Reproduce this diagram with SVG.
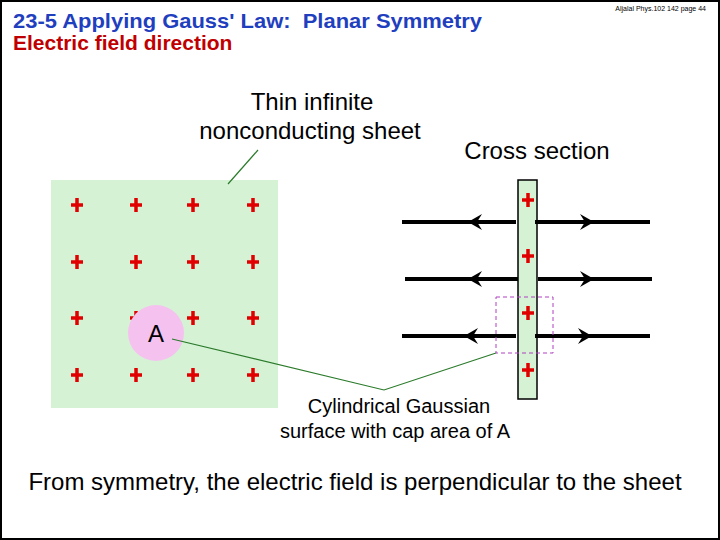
<svg xmlns="http://www.w3.org/2000/svg" width="720" height="540" viewBox="0 0 720 540">
<style>
text{font-family:"Liberation Sans",Arial,sans-serif}
.t{font-size:21px;font-weight:bold;fill:#1f3fbf}
.r{fill:#c00000}
.p{stroke:#e00000;stroke-width:3.5;fill:none}
.a{stroke:#000;stroke-width:4;fill:none}
.ah{fill:#000}
.g{stroke:#2a7a2a;stroke-width:1.2;fill:none}
</style>
<defs>
<g id="plus"><path class="p" d="M-6,0H6M0,-7V7"/></g>
<path id="al" class="ah" d="M-14,0 L0,-8 L-5,0 L0,8Z"/>
<path id="ar" class="ah" d="M14,0 L0,-8 L5,0 L0,8Z"/>
</defs>
<rect x="1" y="1" width="718" height="538" fill="#fff" stroke="#000" stroke-width="2"/>
<text x="13" y="28" class="t" xml:space="preserve" textLength="469" lengthAdjust="spacingAndGlyphs">23-5 Applying Gauss' Law:  Planar Symmetry</text>
<text x="13" y="50" font-size="21" font-weight="bold" class="r">Electric field direction</text>
<text x="706" y="11" font-size="7" text-anchor="end">Aljalal Phys.102 142 page 44</text>
<g id="sheet">
<rect x="51" y="180" width="227" height="228" fill="#d5f2d5"/>
<use href="#plus" x="77" y="205"/><use href="#plus" x="136" y="205"/><use href="#plus" x="193" y="205"/><use href="#plus" x="253" y="205"/>
<use href="#plus" x="77" y="262"/><use href="#plus" x="136" y="262"/><use href="#plus" x="193" y="262"/><use href="#plus" x="253" y="262"/>
<use href="#plus" x="77" y="318"/><use href="#plus" x="136" y="318"/><use href="#plus" x="193" y="318"/><use href="#plus" x="253" y="318"/>
<use href="#plus" x="77" y="375"/><use href="#plus" x="136" y="375"/><use href="#plus" x="193" y="375"/><use href="#plus" x="253" y="375"/>
</g>
<g id="areaA">
<circle cx="156" cy="333" r="28" fill="#f5c2f0"/>
<text x="156" y="342" font-size="24" text-anchor="middle">A</text>
</g>
<g id="label-sheet">
<text x="312" y="110" font-size="24" text-anchor="middle">Thin infinite</text>
<text x="310" y="139" font-size="24" text-anchor="middle">nonconducting sheet</text>
</g>
<text id="label-cross" x="537" y="159" font-size="24" text-anchor="middle">Cross section</text>
<g id="cross">
<rect x="518" y="180" width="19" height="219" fill="#d5f2d5" stroke="#000" stroke-width="1.5"/>
<use href="#plus" x="528" y="200"/><use href="#plus" x="528" y="256"/><use href="#plus" x="528" y="313"/><use href="#plus" x="528" y="370"/>
</g>
<g id="connectors">
<path class="a" d="M402,222H516M535,222H650M405,279H518M538,279H652M402,336H516M535,336H650"/>
<use href="#al" x="482" y="222"/><use href="#ar" x="580" y="222"/>
<use href="#al" x="482" y="279"/><use href="#ar" x="580" y="279"/>
<use href="#al" x="478" y="336"/><use href="#ar" x="578" y="336"/>
<rect x="496" y="297" width="57" height="56" fill="none" stroke="#b040c0" stroke-width="1" stroke-dasharray="4,3"/>
<path class="g" d="M172,339 L384,390 L496,353"/>
<path class="g" d="M258,150 L228,184"/>
</g>
<g id="label-gauss">
<text x="399" y="413" font-size="20" text-anchor="middle">Cylindrical Gaussian</text>
<text x="395" y="438" font-size="20" text-anchor="middle">surface with cap area of A</text>
</g>
<text x="355" y="490" font-size="24" text-anchor="middle">From symmetry, the electric field is perpendicular to the sheet</text>
</svg>
